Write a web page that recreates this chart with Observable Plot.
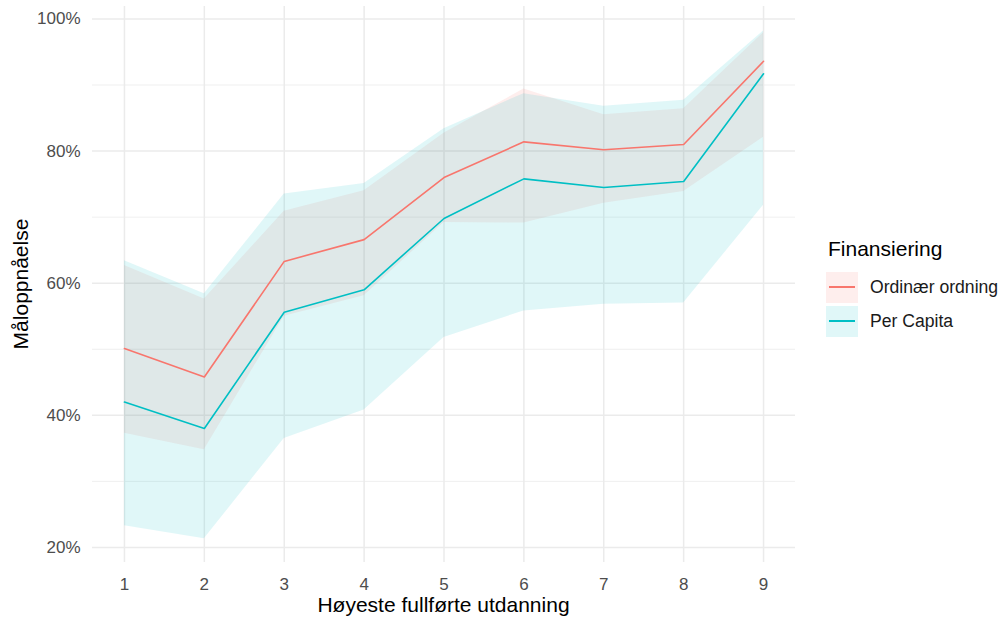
<!DOCTYPE html>
<html><head><meta charset="utf-8">
<script src="https://cdn.jsdelivr.net/npm/d3@7"></script>
<script src="https://cdn.jsdelivr.net/npm/@observablehq/plot@0.6"></script>
<style>
body{margin:0;background:#fff;font-family:"Liberation Sans",Arial,sans-serif;}
#wrap{position:relative;width:1005px;height:621px;overflow:hidden;}
#wrap svg{position:absolute;left:0;top:0;}
.title{position:absolute;font-size:21px;line-height:1;color:#000;white-space:nowrap;}
#xtitle{left:92px;width:703px;top:594px;text-align:center;}
#ytitle{left:20px;top:284px;transform:translate(-50%,-50%) rotate(-90deg);}
#legend{position:absolute;left:826px;top:236px;}
#legend .lt{font-size:21px;line-height:1;margin:2px 0 11px 2px;}
#legend .row{display:flex;align-items:center;height:34px;}
#legend .key{position:relative;width:32px;height:31px;margin-right:12px;}
#legend .key i{position:absolute;left:3px;right:3px;top:14.5px;height:1.6px;}
#legend .lab{font-size:17.6px;color:#1a1a1a;}
</style></head><body><div id="wrap"></div>
<script>
const educationLevels = [1, 2, 3, 4, 5, 6, 7, 8, 9];
const seriesNames = ["Ordinær ordning", "Per Capita"];
const seriesColors = ["#F8766D", "#00BFC4"];

const ordinaerMean = [0.501, 0.458, 0.633, 0.666, 0.760, 0.814, 0.802, 0.810, 0.936];
const ordinaerLow  = [0.373, 0.348, 0.550, 0.581, 0.692, 0.691, 0.721, 0.739, 0.821];
const ordinaerHigh = [0.627, 0.576, 0.709, 0.740, 0.827, 0.894, 0.855, 0.864, 0.979];

const perCapitaMean = [0.420, 0.380, 0.556, 0.590, 0.698, 0.758, 0.745, 0.754, 0.917];
const perCapitaLow  = [0.233, 0.213, 0.365, 0.408, 0.518, 0.558, 0.568, 0.570, 0.718];
const perCapitaHigh = [0.634, 0.584, 0.735, 0.751, 0.834, 0.887, 0.868, 0.877, 0.982];

const yMajorTicks = [0.2, 0.4, 0.6, 0.8, 1.0];
const yMinorTicks = [0.3, 0.5, 0.7, 0.9];
const xTitle = "Høyeste fullførte utdanning";
const yTitle = "Måloppnåelse";
const legendTitle = "Finansiering";

const rows = [];
const seriesData = [
  [ordinaerMean, ordinaerLow, ordinaerHigh],
  [perCapitaMean, perCapitaLow, perCapitaHigh]
];
seriesNames.forEach((name, s) => {
  educationLevels.forEach((x, i) => {
    rows.push({x, series: name, mean: seriesData[s][0][i], low: seriesData[s][1][i], high: seriesData[s][2][i]});
  });
});

const grid = "#EBEBEB";
const chart = Plot.plot({
  width: 1005, height: 621,
  marginLeft: 92, marginRight: 210, marginTop: 6, marginBottom: 59,
  style: {fontFamily: "'Liberation Sans', Arial, sans-serif", background: "transparent", overflow: "visible"},
  x: {domain: [0.6, 9.4]},
  y: {domain: [0.1772, 1.0189]},
  color: {domain: seriesNames, range: seriesColors},
  marks: [
    Plot.ruleY(yMinorTicks, {stroke: grid, strokeWidth: 0.8}),
    Plot.ruleY(yMajorTicks, {stroke: grid, strokeWidth: 1.5}),
    Plot.ruleX(educationLevels, {stroke: grid, strokeWidth: 1.5}),
    Plot.areaY(rows, {x: "x", y1: "low", y2: "high", fill: "series", z: "series", fillOpacity: 0.12}),
    Plot.lineY(rows, {x: "x", y: "mean", stroke: "series", z: "series", strokeWidth: 1.6}),
    Plot.axisX({ticks: educationLevels, tickSize: 0, tickPadding: 15, fontSize: 17, fill: "#4D4D4D", label: null, tickFormat: d => String(d)}),
    Plot.axisY({ticks: yMajorTicks, tickSize: 0, tickPadding: 12, fontSize: 17, fill: "#4D4D4D", label: null, tickFormat: d3.format(".0%")})
  ]
});
const wrap = document.getElementById("wrap");
wrap.appendChild(chart);

const xt = document.createElement("div"); xt.className = "title"; xt.id = "xtitle"; xt.textContent = xTitle; wrap.appendChild(xt);
const yt = document.createElement("div"); yt.className = "title"; yt.id = "ytitle"; yt.textContent = yTitle; wrap.appendChild(yt);

const lg = document.createElement("div"); lg.id = "legend";
const lt = document.createElement("div"); lt.className = "lt"; lt.textContent = legendTitle; lg.appendChild(lt);
seriesNames.forEach((name, s) => {
  const row = document.createElement("div"); row.className = "row";
  const key = document.createElement("div"); key.className = "key";
  const c = d3.color(seriesColors[s]); c.opacity = 0.12;
  key.style.background = c.formatRgb();
  const line = document.createElement("i"); line.style.background = seriesColors[s]; key.appendChild(line);
  const lab = document.createElement("span"); lab.className = "lab"; lab.textContent = name;
  row.appendChild(key); row.appendChild(lab); lg.appendChild(row);
});
wrap.appendChild(lg);
</script>
</body></html>
